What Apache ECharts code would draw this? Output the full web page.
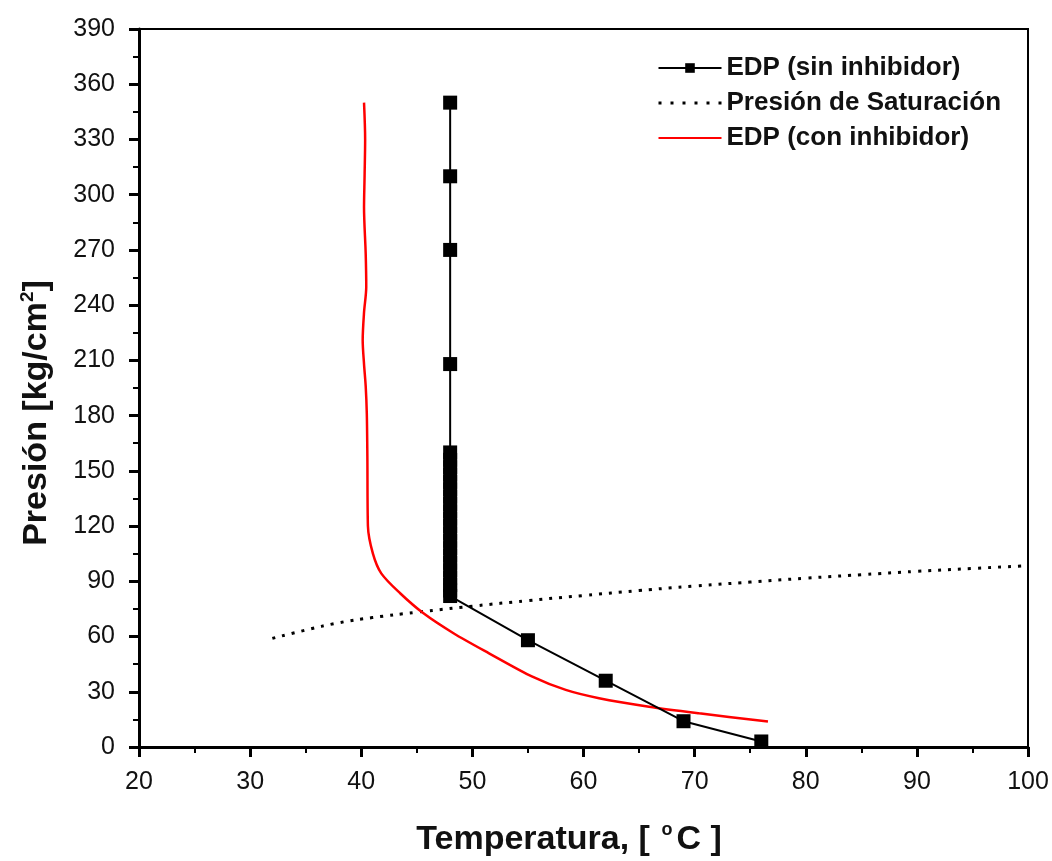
<!DOCTYPE html>
<html>
<head>
<meta charset="utf-8">
<script src="https://cdn.jsdelivr.net/npm/echarts@6/dist/echarts.min.js"></script>
<style>html,body{margin:0;padding:0;background:#fff}#c{width:1052px;height:861px}</style>
</head>
<body>
<div id="c"></div>
<script>
// EDP (sin inhibidor): [Temperatura °C, Presión kg/cm2]
const edpSin = [
  [48, 350], [48, 310], [48, 270], [48, 208],
  [48, 160], [48, 156], [48, 152], [48, 148], [48, 144], [48, 140], [48, 136],
  [48, 132], [48, 128], [48, 124], [48, 120], [48, 116], [48, 112], [48, 108],
  [48, 104], [48, 100], [48, 96], [48, 92], [48, 88], [48, 85], [48, 82],
  [55, 58], [62, 36], [69, 14], [76, 3]
];
// Presión de Saturación
const presionSat = [
  [32, 59], [35, 63.5], [38, 67.5], [41, 70.3], [45, 73.2], [50, 76.5], [55, 79.5],
  [60, 82.3], [65, 85], [70, 87.4], [75, 89.6], [80, 91.7], [85, 93.6], [90, 95.4],
  [95, 97], [100, 98.5]
];
// EDP (con inhibidor)
const edpCon = [
  [40.25, 350], [40.35, 330], [40.3, 310], [40.25, 293], [40.4, 268], [40.45, 250],
  [40.25, 236], [40.13, 221], [40.25, 208], [40.4, 196], [40.5, 181], [40.55, 158],
  [40.6, 120], [41.05, 105], [41.8, 94.3], [43.5, 83.5], [45.6, 72.6], [48.3, 61.8],
  [51.5, 50.9], [55.4, 38.2], [58.4, 31], [61.4, 26.5], [65.9, 21.9], [70.4, 18.3],
  [76.6, 13.8]
];
const seriesNames = ['EDP (sin inhibidor)', 'Presión de Saturación', 'EDP (con inhibidor)'];

const FONT = 'Arial, "Liberation Sans", sans-serif';
const chart = echarts.init(document.getElementById('c'), null, {renderer: 'canvas'});
chart.setOption({
  animation: false,
  backgroundColor: '#fff',
  grid: {left: 139, right: 24, top: 29, bottom: 114, show: true, borderColor: '#000', borderWidth: 2, backgroundColor: 'transparent'},
  legend: {
    orient: 'vertical', left: 652, top: 50, itemWidth: 63, itemHeight: 12, itemGap: 9,
    textStyle: {fontFamily: FONT, fontSize: 26, fontWeight: 'bold', color: '#111'},
    data: [
      {name: seriesNames[0]},
      {name: seriesNames[1], itemStyle: {color: 'rgba(0,0,0,0)', borderWidth: 0}, lineStyle: {type: [3, 9], width: 3}},
      {name: seriesNames[2], itemStyle: {color: 'rgba(0,0,0,0)', borderWidth: 0}}
    ]
  },
  xAxis: {
    type: 'value', min: 20, max: 100, interval: 10,
    axisLine: {show: true, onZero: false, lineStyle: {color: '#000', width: 3}},
    axisTick: {show: true, inside: false, length: 10, lineStyle: {width: 3, color: '#000'}},
    minorTick: {show: true, splitNumber: 2, length: 6, lineStyle: {width: 2, color: '#000'}},
    splitLine: {show: false},
    axisLabel: {fontFamily: FONT, fontSize: 25, color: '#111', margin: 23}
  },
  yAxis: {
    type: 'value', min: 0, max: 390, interval: 30,
    axisLine: {show: true, onZero: false, lineStyle: {color: '#000', width: 3}},
    axisTick: {show: true, inside: false, length: 10, lineStyle: {width: 3, color: '#000'}},
    minorTick: {show: true, splitNumber: 2, length: 6, lineStyle: {width: 2, color: '#000'}},
    splitLine: {show: false},
    axisLabel: {fontFamily: FONT, fontSize: 25, color: '#111', margin: 24}
  },
  series: [
    {
      name: seriesNames[0], type: 'line', data: edpSin,
      symbol: 'rect', symbolSize: 14, showAllSymbol: true,
      itemStyle: {color: '#000', borderWidth: 0},
      lineStyle: {color: '#000', width: 2}, z: 3
    },
    {
      name: seriesNames[1], type: 'line', data: presionSat, smooth: true,
      symbol: 'none', itemStyle: {color: '#000'},
      lineStyle: {color: '#000', width: 3, type: [3, 7]}, z: 2
    },
    {
      name: seriesNames[2], type: 'line', data: edpCon, smooth: 0.3,
      symbol: 'none', itemStyle: {color: '#ff0000'},
      lineStyle: {color: '#ff0000', width: 2.5}, z: 2
    }
  ],
  graphic: [
    {
      type: 'text', x: 569, y: 840,
      style: {
        text: '{a|Temperatura, [ }{s|o}{a|C ]}',
        align: 'center', verticalAlign: 'middle',
        rich: {
          a: {fontFamily: FONT, fontSize: 34, fontWeight: 'bold', fill: '#111'},
          s: {fontFamily: FONT, fontSize: 18, fontWeight: 'bold', fill: '#111', padding: [0, 4, 19, 2]}
        }
      }
    },
    {
      type: 'text', x: 37, y: 413, rotation: Math.PI / 2,
      style: {
        text: '{a|Presión [kg/cm}{s|2}{a|]}',
        align: 'center', verticalAlign: 'middle',
        rich: {
          a: {fontFamily: FONT, fontSize: 34, fontWeight: 'bold', fill: '#111'},
          s: {fontFamily: FONT, fontSize: 19, fontWeight: 'bold', fill: '#111', padding: [0, 0, 19, 0]}
        }
      }
    }
  ]
});
</script>
</body>
</html>
